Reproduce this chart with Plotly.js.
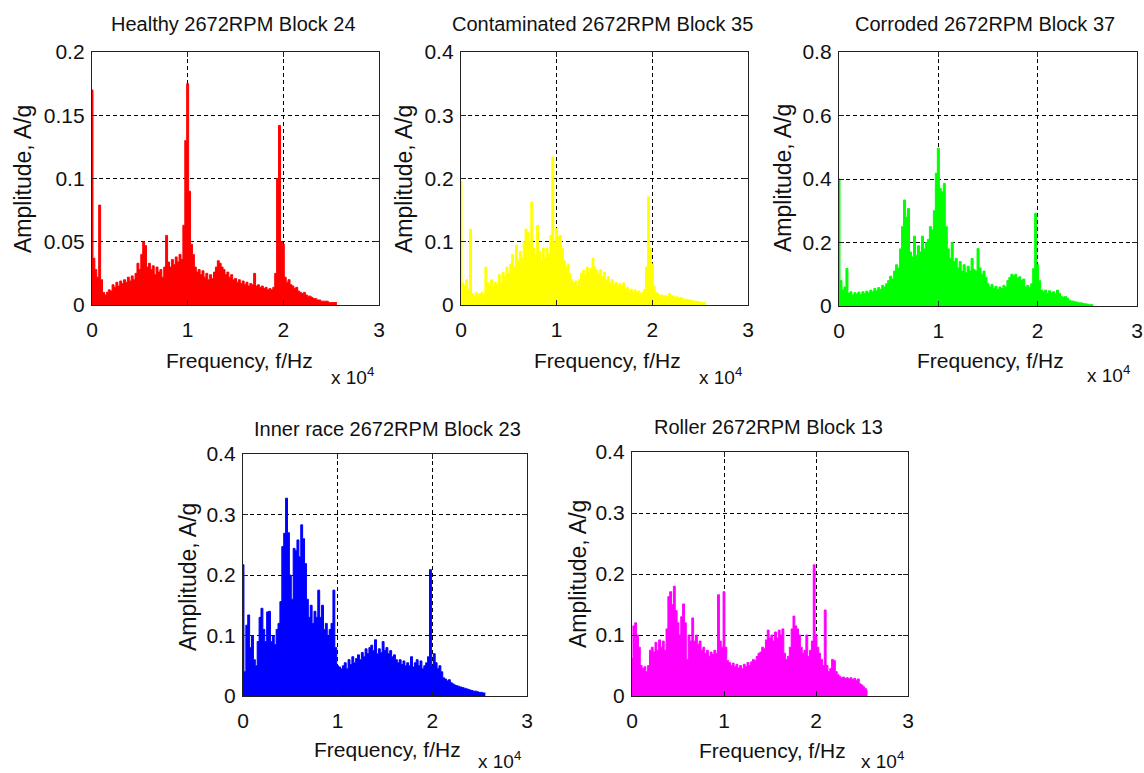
<!DOCTYPE html>
<html>
<head>
<meta charset="utf-8">
<script src="https://cdn.plot.ly/plotly-3.0.1.min.js"></script>
<style>
  html, body { margin: 0; padding: 0; background: #ffffff; }
  #chart { width: 1144px; height: 773px; }
</style>
</head>
<body>
<div id="chart"></div>
<script>
// FFT amplitude spectra (A/g), one value per 200 Hz bin from 0 to 25.6 kHz
const BIN_HZ = 200;

const healthy = [
  0.170, 0.037, 0.028, 0.022, 0.079, 0.020, 0.010, 0.008, 0.010, 0.012,
  0.011, 0.016, 0.014, 0.018, 0.015, 0.019, 0.017, 0.020, 0.018, 0.022,
  0.019, 0.023, 0.020, 0.025, 0.033, 0.028, 0.040, 0.050, 0.047, 0.030,
  0.033, 0.028, 0.031, 0.024, 0.030, 0.026, 0.028, 0.022, 0.030, 0.055,
  0.034, 0.030, 0.036, 0.032, 0.038, 0.034, 0.040, 0.036, 0.063, 0.130,
  0.175, 0.090, 0.048, 0.040, 0.030, 0.026, 0.028, 0.024, 0.027, 0.022,
  0.025, 0.020, 0.024, 0.021, 0.026, 0.030, 0.035, 0.033, 0.030, 0.028,
  0.024, 0.026, 0.022, 0.024, 0.020, 0.021, 0.018, 0.020, 0.017, 0.019,
  0.016, 0.018, 0.015, 0.017, 0.016, 0.025, 0.015, 0.016, 0.014, 0.015,
  0.013, 0.014, 0.012, 0.013, 0.012, 0.014, 0.025, 0.100, 0.142, 0.050,
  0.048, 0.022, 0.018, 0.020, 0.016, 0.015, 0.013, 0.014, 0.011, 0.010,
  0.009, 0.010, 0.008, 0.007, 0.007, 0.006, 0.005, 0.005, 0.004, 0.004,
  0.003, 0.003, 0.003, 0.003, 0.002, 0.002, 0.002, 0.002, 0.002
];

const contaminated = [
  0.195, 0.035, 0.030, 0.040, 0.025, 0.120, 0.018, 0.015, 0.020, 0.016,
  0.018, 0.020, 0.017, 0.060, 0.035, 0.030, 0.040, 0.028, 0.036, 0.032,
  0.048, 0.035, 0.052, 0.045, 0.060, 0.050, 0.065, 0.080, 0.060, 0.095,
  0.070, 0.085, 0.075, 0.100, 0.120, 0.115, 0.100, 0.163, 0.090, 0.080,
  0.126, 0.085, 0.070, 0.090, 0.075, 0.090, 0.080, 0.110, 0.234, 0.100,
  0.121, 0.108, 0.110, 0.090, 0.070, 0.060, 0.065, 0.050, 0.040, 0.035,
  0.038, 0.030, 0.040, 0.050, 0.055, 0.048, 0.060, 0.052, 0.058, 0.074,
  0.060, 0.055, 0.050, 0.056, 0.045, 0.052, 0.040, 0.045, 0.035, 0.040,
  0.032, 0.036, 0.030, 0.034, 0.030, 0.035, 0.025, 0.028, 0.022, 0.025,
  0.020, 0.024, 0.020, 0.022, 0.018, 0.020, 0.025, 0.060, 0.171, 0.090,
  0.065, 0.030, 0.020, 0.018, 0.015, 0.016, 0.014, 0.015, 0.013, 0.018,
  0.015, 0.014, 0.012, 0.013, 0.011, 0.012, 0.010, 0.009, 0.009, 0.008,
  0.008, 0.007, 0.006, 0.006, 0.005, 0.005, 0.004, 0.004, 0.003
];

const corroded = [
  0.400, 0.080, 0.050, 0.060, 0.118, 0.040, 0.045, 0.035, 0.042, 0.038,
  0.044, 0.036, 0.045, 0.040, 0.047, 0.042, 0.050, 0.045, 0.055, 0.048,
  0.058, 0.052, 0.065, 0.060, 0.070, 0.080, 0.094, 0.085, 0.110, 0.130,
  0.120, 0.180, 0.250, 0.334, 0.280, 0.307, 0.170, 0.155, 0.220, 0.160,
  0.190, 0.170, 0.220, 0.180, 0.200, 0.210, 0.250, 0.240, 0.300, 0.418,
  0.497, 0.370, 0.360, 0.386, 0.250, 0.180, 0.150, 0.200, 0.140, 0.150,
  0.120, 0.140, 0.110, 0.130, 0.105, 0.125, 0.110, 0.150, 0.115, 0.110,
  0.181, 0.120, 0.100, 0.110, 0.090, 0.070, 0.060, 0.068, 0.055, 0.062,
  0.052, 0.060, 0.055, 0.065, 0.060, 0.080, 0.090, 0.100, 0.095, 0.100,
  0.088, 0.092, 0.080, 0.085, 0.060, 0.065, 0.058, 0.070, 0.118, 0.292,
  0.130, 0.080, 0.050, 0.045, 0.050, 0.040, 0.048, 0.042, 0.045, 0.038,
  0.050, 0.040, 0.030, 0.028, 0.030, 0.025, 0.018, 0.016, 0.015, 0.013,
  0.012, 0.010, 0.010, 0.008, 0.007, 0.006, 0.005, 0.005, 0.004
];

const innerRace = [
  0.217, 0.040, 0.117, 0.134, 0.080, 0.100, 0.060, 0.050, 0.090, 0.130,
  0.145, 0.110, 0.090, 0.139, 0.140, 0.090, 0.100, 0.085, 0.110, 0.120,
  0.156, 0.247, 0.269, 0.327, 0.270, 0.200, 0.160, 0.244, 0.240, 0.258,
  0.230, 0.283, 0.260, 0.219, 0.160, 0.130, 0.150, 0.120, 0.140, 0.130,
  0.175, 0.130, 0.150, 0.110, 0.120, 0.100, 0.110, 0.120, 0.175, 0.080,
  0.050, 0.048, 0.045, 0.050, 0.055, 0.045, 0.060, 0.052, 0.065, 0.055,
  0.062, 0.068, 0.060, 0.072, 0.065, 0.078, 0.070, 0.080, 0.084, 0.075,
  0.093, 0.070, 0.078, 0.072, 0.090, 0.075, 0.080, 0.070, 0.075, 0.065,
  0.068, 0.060, 0.055, 0.060, 0.052, 0.058, 0.050, 0.055, 0.050, 0.065,
  0.048, 0.055, 0.060, 0.050, 0.058, 0.045, 0.050, 0.055, 0.065, 0.209,
  0.050, 0.070, 0.055, 0.045, 0.050, 0.040, 0.030, 0.028, 0.025, 0.027,
  0.022, 0.020, 0.018, 0.017, 0.016, 0.015, 0.014, 0.013, 0.012, 0.011,
  0.010, 0.009, 0.008, 0.008, 0.007, 0.006, 0.006, 0.005, 0.005
];

const roller = [
  0.062, 0.115, 0.120, 0.100, 0.080, 0.050, 0.045, 0.048, 0.040, 0.050,
  0.075, 0.080, 0.072, 0.088, 0.075, 0.092, 0.080, 0.090, 0.075, 0.110,
  0.163, 0.171, 0.150, 0.180, 0.140, 0.120, 0.100, 0.130, 0.151, 0.120,
  0.060, 0.100, 0.090, 0.128, 0.090, 0.100, 0.085, 0.090, 0.075, 0.080,
  0.070, 0.075, 0.065, 0.072, 0.068, 0.075, 0.070, 0.166, 0.090, 0.080,
  0.171, 0.080, 0.058, 0.055, 0.050, 0.054, 0.048, 0.052, 0.046, 0.050,
  0.045, 0.052, 0.048, 0.055, 0.050, 0.056, 0.060, 0.058, 0.065, 0.070,
  0.072, 0.080, 0.078, 0.092, 0.108, 0.095, 0.100, 0.090, 0.105, 0.095,
  0.108, 0.100, 0.110, 0.070, 0.060, 0.065, 0.080, 0.110, 0.131, 0.115,
  0.110, 0.100, 0.080, 0.070, 0.075, 0.100, 0.065, 0.075, 0.090, 0.215,
  0.100, 0.080, 0.070, 0.060, 0.050, 0.141, 0.050, 0.040, 0.045, 0.060,
  0.058, 0.040, 0.035, 0.032, 0.030, 0.031, 0.029, 0.030, 0.028, 0.030,
  0.027, 0.029, 0.026, 0.028, 0.020, 0.018, 0.015, 0.012, 0.008
];

const panelTitles = [
  'Healthy 2672RPM Block 24',
  'Contaminated 2672RPM Block 35',
  'Corroded 2672RPM Block 37',
  'Inner race 2672RPM Block 23',
  'Roller 2672RPM Block 13'
];
const panelColors = ['#ff0000', '#ffff00', '#00ff00', '#0000ff', '#ff00ff'];
const panelSeries = [healthy, contaminated, corroded, innerRace, roller];
const yMax = [0.2, 0.4, 0.8, 0.4, 0.4];
const yStep = [0.05, 0.1, 0.2, 0.1, 0.1];
const xTickVals = [0, 10000, 20000, 30000];
const xTickText = ['0', '1', '2', '3'];

const W = 1144, H = 773;
// pixel boxes of each axes: [left, right, top, bottom]
const boxes = [
  [92, 379, 52, 305],
  [461, 748, 52, 305],
  [839, 1137, 52, 306],
  [243, 527, 454, 696],
  [632, 908, 452, 696]
];
// label anchors in pixels
const titlePos = [[233, 24], [602, 24], [985, 24], [387, 429], [768, 427]];
const yLabPos = [[23, 179], [404, 179], [783, 178], [188, 577], [578, 574]];
const xLabPos = [[239, 360], [607, 360], [990, 360], [387, 749], [772, 750]];
const expPos = [[352, 376], [720, 376], [1108, 374], [499, 760], [882, 760]];

const FONT = 'Liberation Sans, Arial, Helvetica, sans-serif';
const INK = '#111111';
const px = x => x / W;
const py = y => 1 - y / H;

const traces = [];
const layout = {
  width: W, height: H,
  margin: {l: 0, r: 0, t: 0, b: 0},
  paper_bgcolor: '#ffffff',
  plot_bgcolor: '#ffffff',
  showlegend: false,
  font: {family: FONT, color: INK, size: 21},
  annotations: []
};

panelSeries.forEach((vals, k) => {
  const n = k + 1;
  const xa = n === 1 ? 'x' : 'x' + n;
  const ya = n === 1 ? 'y' : 'y' + n;
  const freq = vals.map((_, i) => i * BIN_HZ);
  traces.push({
    type: 'scatter', mode: 'lines',
    x: freq, y: vals,
    xaxis: xa, yaxis: ya,
    line: {color: panelColors[k], width: 1, shape: 'hvh'},
    fill: 'tozeroy', fillcolor: panelColors[k],
    hoverinfo: 'skip'
  });

  const b = boxes[k];
  const axCommon = {
    showline: true, mirror: 'ticks', linecolor: '#222', linewidth: 1.2,
    ticks: 'inside', ticklen: 5, tickcolor: '#222',
    showgrid: true, gridcolor: '#000000', gridwidth: 1, griddash: '4px,3px',
    zeroline: false, fixedrange: true,
    tickfont: {family: FONT, size: 21, color: INK}
  };
  layout['xaxis' + (n === 1 ? '' : n)] = Object.assign({}, axCommon, {
    domain: [px(b[0]), px(b[1])],
    anchor: ya,
    range: [0, 30000],
    tickvals: xTickVals, ticktext: xTickText,
    ticklabelstandoff: 6
  });
  const yTicks = [];
  for (let v = 0; v <= yMax[k] + 1e-9; v += yStep[k]) yTicks.push(+v.toFixed(2));
  layout['yaxis' + (n === 1 ? '' : n)] = Object.assign({}, axCommon, {
    domain: [py(b[3]), py(b[2])],
    anchor: xa,
    range: [0, yMax[k]],
    tickvals: yTicks,
    ticktext: yTicks.map(v => String(v)),
    ticklabelstandoff: 2
  });

  layout.annotations.push({
    text: panelTitles[k], xref: 'paper', yref: 'paper',
    x: px(titlePos[k][0]), y: py(titlePos[k][1]),
    xanchor: 'center', yanchor: 'middle', showarrow: false,
    font: {family: FONT, size: 20, color: INK}
  });
  layout.annotations.push({
    text: 'Amplitude, A/g', xref: 'paper', yref: 'paper', textangle: -90,
    x: px(yLabPos[k][0]), y: py(yLabPos[k][1]),
    xanchor: 'center', yanchor: 'middle', showarrow: false,
    font: {family: FONT, size: 23, color: INK}
  });
  layout.annotations.push({
    text: 'Frequency, f/Hz', xref: 'paper', yref: 'paper',
    x: px(xLabPos[k][0]), y: py(xLabPos[k][1]),
    xanchor: 'center', yanchor: 'middle', showarrow: false,
    font: {family: FONT, size: 21, color: INK}
  });
  layout.annotations.push({
    text: 'x 10<sup>4</sup>', xref: 'paper', yref: 'paper',
    x: px(expPos[k][0]), y: py(expPos[k][1]),
    xanchor: 'center', yanchor: 'middle', showarrow: false,
    font: {family: FONT, size: 19, color: INK}
  });
});

Plotly.newPlot('chart', traces, layout, {staticPlot: true, displayModeBar: false});
</script>
</body>
</html>
